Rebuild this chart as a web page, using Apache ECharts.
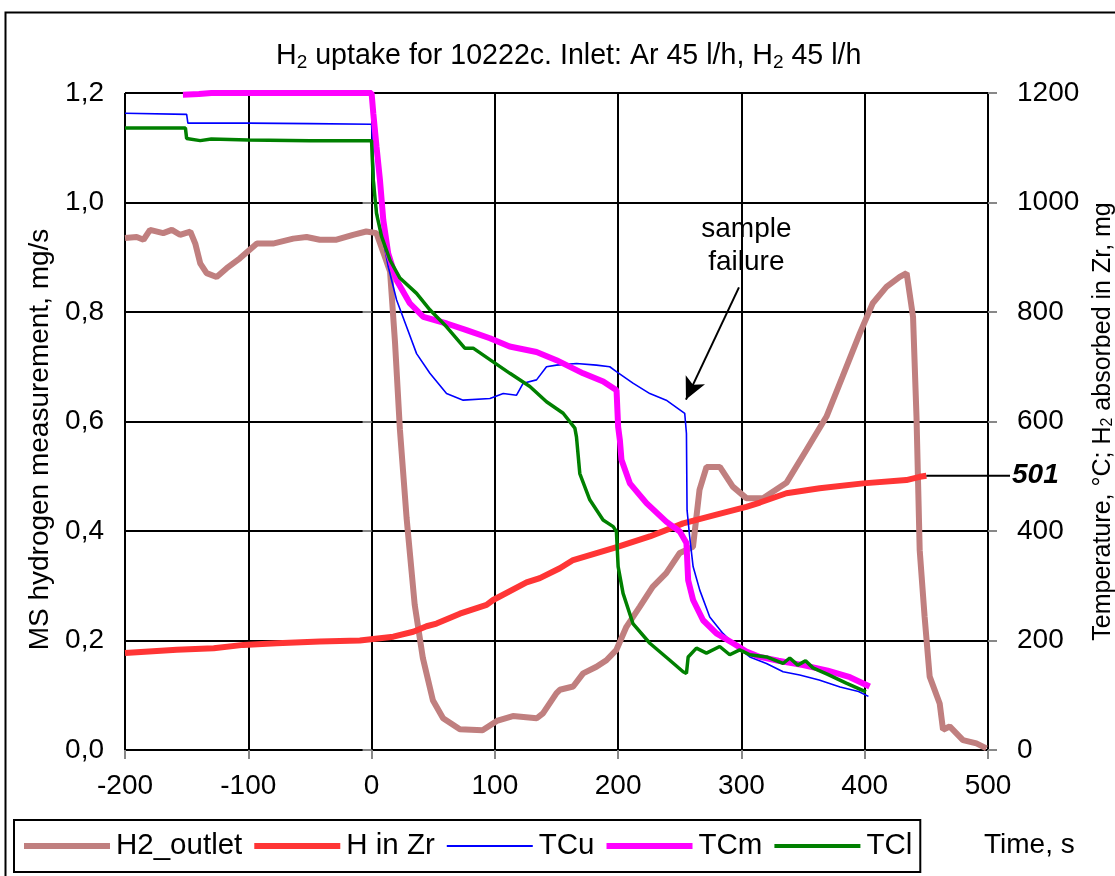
<!DOCTYPE html>
<html>
<head>
<meta charset="utf-8">
<script src="https://cdn.jsdelivr.net/npm/echarts@6/dist/echarts.min.js"></script>
<style>html,body{margin:0;padding:0;background:#fff;overflow:hidden;}#c{width:1115px;height:876px;}</style>
</head>
<body>
<div id="c"></div>
<script>
// ---- data (time s, value) ----
const h2OutletT = [-200,-190.5,-185,-179.7,-169,-162,-155.4,-147,-143,-139,-133.8,-125.7,-117.5,-106.8,-93,-80,-63.5,-52.7,-42,-28.4,-15,-4.3,4,
  15,19,23,28.4,35,41.6,49.7,58,71.6,90,101.6,114.6,134,139,150,152.7,163.5,171.6,182.4,190.5,198.6,206.7,217.6,228,239,250,260.7,266,271.7,282.5,293,304,317.5,336.5,352.7,369,382,396,406.5,417.6,428.4,434,439.2,442,443.3,444.6,448.6,452.7,460.8,463.5,468.9,479.7,490.6,498.7];
const h2OutletV = [0.935,0.937,0.932,0.950,0.944,0.950,0.941,0.947,0.925,0.889,0.871,0.864,0.880,0.898,0.925,0.925,0.934,0.937,0.932,0.932,0.941,0.947,0.944,
  0.874,0.745,0.585,0.424,0.265,0.168,0.091,0.058,0.038,0.036,0.053,0.062,0.058,0.067,0.104,0.110,0.116,0.140,0.152,0.164,0.183,0.225,0.262,0.298,0.323,0.360,0.371,0.475,0.517,0.517,0.481,0.460,0.460,0.488,0.548,0.609,0.682,0.761,0.816,0.846,0.864,0.871,0.791,0.609,0.487,0.365,0.243,0.134,0.085,0.037,0.043,0.018,0.012,0.003];

const hInZrT = [-200,-158,-128,-104,-77,-42,-9.5,17.6,33.8,44.6,52.7,71.6,93.3,98.6,125.7,136.5,152.7,163.5,199.5,225.7,252.7,279.7,304,315,336.5,363.5,398.6,433.8,444.6,450];
const hInZrV = [177,183,186,192,195,198,200,207,216,226,231,249,265,274,306,314,332,347,371,390,414,430,444,452,469,478,487,493,499,501];

const tcuT = [-200,-150,-149,-100,-50,0,1,2.7,5.4,9.5,13.5,20.3,28.4,36.5,47.3,60.8,74.3,96,106.8,117.6,123,133.8,141.9,150,166.2,182.4,193.2,198.6,212,225.7,239,254,255.4,255.9,258,260.8,266.2,274.3,285,296,306.8,320.3,333.8,347.3,363,380,395,403];
const tcuV = [1163,1161,1145,1145,1144,1143,1100,1010,968,931,883,822,773,724,688,651,639,642,651,648,670,676,700,703,706,703,700,691,670,651,639,615,578,438,390,335,292,243,213,189,170,158,143,137,128,115,107,98];

const tcmT = [-153,-140,-130,0,1.4,4,6.8,9.5,13.5,20.3,31,42,61,77,96,112,133.8,150,171.6,187.9,198.7,200,201.4,202.7,209.5,223,239,250,255.4,256.8,260.8,268.9,279.7,293.2,304,315,330,350,370,388,404];
const tcmV = [1197,1198,1200,1200,1163,1102,1041,968,907,858,816,791,779,767,752,737,727,712,688,673,657,590,566,530,487,451,417,399,378,310,274,237,213,195,180,170,163,155,145,133,116];

const tclT = [-200,-151,-150,-139,-130,-100,-50,0,0.5,1.4,4,8.1,14.9,23,36.5,47.3,60.8,75.6,82.4,98.6,112.2,128.4,141.9,155.4,164.9,166.2,168.9,177,187.8,196,198.6,200,204,212,225.7,241.9,252.7,255.4,256.8,263.5,271.6,282.4,290.5,298.6,306.8,320.3,333.8,339.2,345.7,352,358,370,385,401];
const tclV = [1136,1136,1117,1113,1116,1114,1113,1113,1084,1041,980,938,895,862,834,804,773,734,734,709,688,664,636,615,588,572,505,457,420,408,399,335,286,231,195,164,143,140,170,186,177,189,174,183,174,170,158,168,155,163,150,138,122,106];

// annotations (axis values)
const failureArrowT = [298, 255];
const failureArrowV = [845, 640];
const failureTextPos = [304, 921];
const failureText = 'sample\nfailure';

const xTicks = {min: -200, max: 500, step: 100};
const leftTicks = {min: 0, max: 1.2, step: 0.2};
const rightTicks = {min: 0, max: 1200, step: 200};

const seriesNames = ['H2_outlet', 'H in Zr', 'TCu', 'TCm', 'TCl'];
const seriesColors = ['#C07F7F', '#FF3535', '#0000FF', '#FF00FF', '#008000'];
const seriesWidths = [6, 6, 1.6, 6, 3.5];

function zip(t, v) { return t.map((x, i) => [x, v[i]]); }

const FONT = 'Liberation Sans, Arial, sans-serif';
const chart = echarts.init(document.getElementById('c'), null, {renderer: 'canvas'});

const gridLine = {show: true, lineStyle: {color: '#000', width: 2}};
const tick = {show: true, inside: false, length: 9, lineStyle: {color: '#888', width: 2}};

function legendIcon(w) {
  const h = Math.max(2, Math.round(w));
  return 'path://M0,0H86V' + h + 'H0Z';
}

const option = {
  backgroundColor: '#fff',
  animation: false,
  textStyle: {fontFamily: FONT, color: '#000'},
  title: {
    text: '{a|H}{b|2}{a| uptake for 10222c. Inlet: Ar 45 l/h, H}{b|2}{a| 45 l/h}',
    left: 271, top: 36,
    textStyle: {
      fontWeight: 'normal',
      rich: {
        a: {fontSize: 28.6, fontWeight: 'normal', fontFamily: FONT, color: '#000'},
        b: {fontSize: 19, fontWeight: 'normal', fontFamily: FONT, color: '#000', padding: [12, 0, 0, 0]}
      }
    }
  },
  grid: {left: 125, right: 127, top: 93, bottom: 126, containLabel: false, outerBoundsMode: 'none'},
  legend: {
    data: seriesNames.map((n, i) => ({name: n, icon: legendIcon(seriesWidths[i]), itemStyle: {color: seriesColors[i]}})),
    left: 14, top: 820,
    orient: 'horizontal',
    itemWidth: 86, itemHeight: 14, itemGap: 12, symbolKeepAspect: true,
    padding: [11, 8, 11, 10],
    borderColor: '#000', borderWidth: 2,
    textStyle: {fontSize: 29.5, fontFamily: FONT, color: '#000', padding: [0, 0, 0, 1]}
  },
  xAxis: {
    type: 'value', min: xTicks.min, max: xTicks.max, interval: xTicks.step,
    axisLine: {show: true, onZero: false, lineStyle: {color: '#000', width: 2}},
    axisTick: tick,
    axisLabel: {fontSize: 28, color: '#000', fontFamily: FONT, margin: 22},
    splitLine: gridLine
  },
  yAxis: [
    {
      type: 'value', min: leftTicks.min, max: leftTicks.max, interval: leftTicks.step, position: 'left',
      axisLine: {show: true, lineStyle: {color: '#000', width: 2}},
      axisTick: tick,
      axisLabel: {fontSize: 28, color: '#000', fontFamily: FONT, margin: 21,
        formatter: v => v.toFixed(1).replace('.', ',')},
      splitLine: gridLine,
      name: 'MS hydrogen measurement, mg/s',
      nameLocation: 'middle', nameRotate: 90, nameGap: 70,
      nameTextStyle: {fontSize: 28, color: '#000', fontFamily: FONT, padding: [0, 36, 0, 0]}
    },
    {
      type: 'value', min: rightTicks.min, max: rightTicks.max, interval: rightTicks.step, position: 'right',
      axisLine: {show: true, lineStyle: {color: '#000', width: 2}},
      axisTick: tick,
      axisLabel: {fontSize: 28, color: '#000', fontFamily: FONT, margin: 29, formatter: v => String(v)},
      splitLine: {show: false},
      name: '{a|Temperature, °C; H}{b|2}{a| absorbed in Zr, mg}',
      nameLocation: 'middle', nameRotate: 90, nameGap: 98,
      nameTextStyle: {
        rich: {
          a: {fontSize: 25, color: '#000', fontFamily: FONT},
          b: {fontSize: 16, color: '#000', fontFamily: FONT, padding: [10, 0, 0, 0]}
        }
      }
    }
  ],
  series: [
    {
      name: seriesNames[0], type: 'line', yAxisIndex: 0, data: zip(h2OutletT, h2OutletV),
      showSymbol: false, symbol: 'none', lineStyle: {color: seriesColors[0], width: seriesWidths[0]}, itemStyle: {color: seriesColors[0]}
    },
    {
      name: seriesNames[1], type: 'line', yAxisIndex: 1, data: zip(hInZrT, hInZrV),
      showSymbol: false, symbol: 'none', lineStyle: {color: seriesColors[1], width: seriesWidths[1]}, itemStyle: {color: seriesColors[1]}
    },
    {
      name: seriesNames[2], type: 'line', yAxisIndex: 1, data: zip(tcuT, tcuV),
      showSymbol: false, symbol: 'none', lineStyle: {color: seriesColors[2], width: seriesWidths[2]}, itemStyle: {color: seriesColors[2]},
      markLine: {
        silent: true, symbol: ['none', 'arrow'], symbolSize: [16, 22],
        lineStyle: {color: '#000', width: 2, type: 'solid'},
        label: {show: false},
        data: [[{coord: [failureArrowT[0], failureArrowV[0]]}, {coord: [failureArrowT[1], failureArrowV[1]]}]]
      },
      markPoint: {
        silent: true, symbol: 'rect', symbolSize: 1, itemStyle: {color: 'rgba(0,0,0,0)'},
        label: {show: true, position: 'inside', formatter: failureText, fontSize: 28, lineHeight: 33, color: '#000', fontFamily: FONT},
        data: [{coord: failureTextPos}]
      }
    },
    {
      name: seriesNames[3], type: 'line', yAxisIndex: 1, data: zip(tcmT, tcmV),
      showSymbol: false, symbol: 'none', lineStyle: {color: seriesColors[3], width: seriesWidths[3]}, itemStyle: {color: seriesColors[3]}
    },
    {
      name: seriesNames[4], type: 'line', yAxisIndex: 1, data: zip(tclT, tclV),
      showSymbol: false, symbol: 'none', lineStyle: {color: seriesColors[4], width: seriesWidths[4]}, itemStyle: {color: seriesColors[4]}
    }
  ]
};
chart.setOption(option);

// value label at end of H in Zr, positioned through the axis scales
const lastIdx = hInZrT.length - 1;
const endPt = chart.convertToPixel({xAxisIndex: 0, yAxisIndex: 1}, [hInZrT[lastIdx], hInZrV[lastIdx]]);
const rightEdge = chart.convertToPixel({xAxisIndex: 0}, xTicks.max);
chart.setOption({
  graphic: [
    {type: 'rect', left: 3, top: 10, shape: {x: 0, y: 0, width: 1200, height: 1000}, style: {fill: null, stroke: '#000', lineWidth: 2}, silent: true, z: 100},
    {type: 'line', shape: {x1: endPt[0], y1: endPt[1], x2: rightEdge + 22, y2: endPt[1]}, style: {stroke: '#000', lineWidth: 2}, z: 100},
    {type: 'text', x: rightEdge + 24, y: endPt[1], style: {text: String(hInZrV[lastIdx]), fontSize: 28, fontWeight: 'bold', fontStyle: 'italic', fontFamily: FONT, fill: '#000', textVerticalAlign: 'middle', textAlign: 'left'}, z: 100},
    {type: 'text', x: 984, y: 845, style: {text: 'Time, s', fontSize: 28, fontFamily: FONT, fill: '#000', textVerticalAlign: 'middle', textAlign: 'left'}, z: 100}
  ]
});
</script>
</body>
</html>
